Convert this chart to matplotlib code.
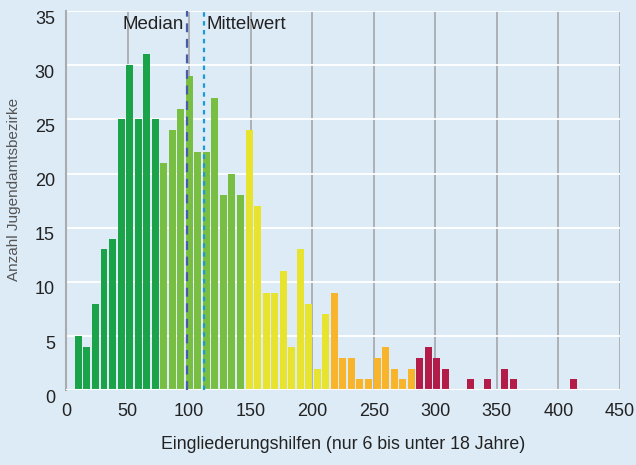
import numpy as np
import matplotlib.pyplot as plt
import matplotlib.transforms as mtransforms

# Anzahl Jugendamtsbezirke je Klasse (Histogramm, 59 Klassen)
counts = [5, 4, 8, 13, 14, 25, 30, 25, 31, 25,
          21, 24, 26, 29, 22, 22, 27, 18, 20, 18,
          24, 17, 9, 9, 11, 4, 13, 8, 2, 7,
          9, 3, 3, 1, 1, 3, 4, 2, 1, 2,
          3, 4, 3, 2, 0, 0, 1, 0, 1, 0,
          2, 1, 0, 0, 0, 0, 0, 0, 1]
x_min = 6.6
x_max = 415.5
median = 98.5
mittelwert = 112
group_size = 10
group_colors = ["#1ba34a", "#78be43", "#e8e32e", "#f8b42a", "#b31b48"]
bg = "#ddebf7"

plt.rcParams['font.family'] = ['Liberation Sans Narrow', 'Liberation Sans', 'DejaVu Sans']

n = len(counts)
edges = np.linspace(x_min, x_max, n + 1)
centers = (edges[:-1] + edges[1:]) / 2
bw = edges[1] - edges[0]
colors = [group_colors[min(i // group_size, len(group_colors) - 1)] for i in range(n)]

fig = plt.figure(figsize=(6.36, 4.65), dpi=100, facecolor=bg)
ax = fig.add_axes([0.1038, 0.1606, 0.871, 0.8157], facecolor=bg)

ax.bar(centers, counts, width=bw * 0.82, color=colors, zorder=3)

ax.set_xlim(0, 450)
ax.set_ylim(0, 35)
ax.set_xticks(np.arange(0, 451, 50))
ax.set_yticks(np.arange(0, 36, 5))

for v in np.arange(50, 451, 50):
    ax.axvline(v, color="#a9abae", lw=1.3, zorder=1)
for v in np.arange(5, 36, 5):
    ax.axhline(v, color="white", lw=1.3, zorder=2)
ax.axhline(0, color="white", lw=1.5, zorder=4)

ax.axvline(median, color="#4a5ba8", lw=1.6, ls=(0, (4, 3)), zorder=5)
ax.axvline(mittelwert, color="#1b9ad7", lw=1.6, ls=(0, (2, 2)), zorder=5)
ax.text(median - 2.5, 34.5, "Median", ha="right", va="top", fontsize=13.5, color="#222222", zorder=6)
ax.text(mittelwert + 2, 34.5, "Mittelwert", ha="left", va="top", fontsize=13.5, color="#222222", zorder=6)

for s in ["top", "right", "bottom"]:
    ax.spines[s].set_visible(False)
ax.spines["left"].set_color("#a9abae")
ax.spines["left"].set_linewidth(1.5)

ax.tick_params(axis="both", length=0, labelsize=13, colors="#222222")
ax.tick_params(axis="y", pad=8)
ax.tick_params(axis="x", pad=9)
offset = mtransforms.ScaledTranslation(0, -6 / 100, fig.dpi_scale_trans)
for lab in ax.get_yticklabels():
    lab.set_transform(lab.get_transform() + offset)

ax.set_xlabel("Eingliederungshilfen (nur 6 bis unter 18 Jahre)", fontsize=12.8, color="#222222", labelpad=12)
ax.set_ylabel("Anzahl Jugendamtsbezirke", fontsize=11, color="#555555")
ax.yaxis.set_label_coords(-0.082, 0.53)

fig.savefig("out.png", dpi=100, facecolor=bg)
